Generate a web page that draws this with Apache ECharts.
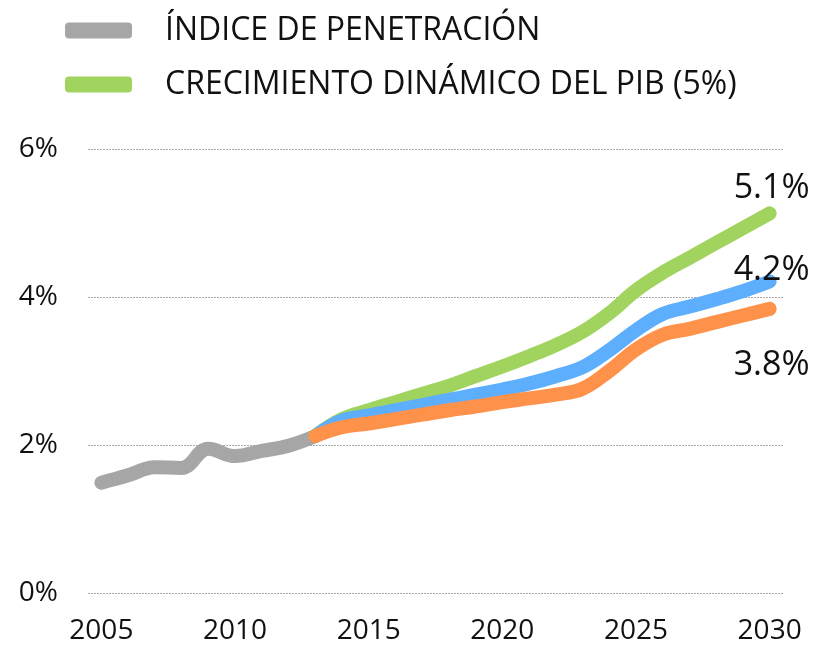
<!DOCTYPE html>
<html>
<head>
<meta charset="utf-8">
<script src="https://cdn.jsdelivr.net/npm/echarts@6/dist/echarts.min.js"></script>
<style>
  html, body { margin: 0; padding: 0; background: #fff; }
  #chart { width: 820px; height: 646px; }
</style>
</head>
<body>
<div id="chart"></div>
<script>
// años del eje x
const years = [];
for (let y = 2005; y <= 2030; y++) years.push(String(y));

// índice de penetración histórico (2005-2013)
const penetracion = [1.49, 1.59, 1.70, 1.69, 1.95, 1.85, 1.92, 1.99, 2.12];

// escenarios 2013-2030
const pibDinamico = [2.12, 2.35, 2.47, 2.58, 2.69, 2.80, 2.93, 3.06, 3.20, 3.35, 3.53, 3.78, 4.09, 4.33, 4.53, 4.73, 4.93, 5.13];
const escenarioAzul = [2.12, 2.33, 2.40, 2.47, 2.54, 2.61, 2.68, 2.75, 2.83, 2.93, 3.05, 3.28, 3.55, 3.77, 3.87, 3.97, 4.08, 4.21];
const escenarioNaranja = [2.12, 2.24, 2.29, 2.35, 2.41, 2.47, 2.52, 2.58, 2.63, 2.68, 2.76, 3.00, 3.29, 3.49, 3.57, 3.66, 3.75, 3.84];

const yTicks = [0, 2, 4, 6];

const FONT = 'Open Sans';

// rellenar con null para el eje de categorías
function pad(values, startYear) {
  let out = years.map(() => null);
  let offset = startYear - 2005;
  values.forEach((v, i) => { out[offset + i] = v; });
  return out;
}

// último punto con etiqueta
function withEndLabel(arr, offsetY) {
  let last = arr.length - 1;
  arr[last] = {
    value: arr[last],
    label: {
      show: true,
      position: 'inside',
      offset: [2, offsetY],
      formatter: p => p.value.toFixed(1) + '%',
      fontFamily: FONT,
      fontSize: 34,
      color: '#111'
    }
  };
  return arr;
}

function lineSeries(name, data, color, z) {
  return {
    name,
    type: 'line',
    data,
    smooth: 0.4,
    z,
    symbol: 'circle',
    symbolSize: 2,
    showSymbol: true,
    showAllSymbol: true,
    itemStyle: { color },
    lineStyle: { width: 14, color, cap: 'round', join: 'round' },
    label: { show: false },
    emphasis: { disabled: true },
    animation: false
  };
}

const chart = echarts.init(document.getElementById('chart'));

chart.setOption({
  backgroundColor: '#ffffff',
  animation: false,
  legend: {
    data: ['ÍNDICE DE PENETRACIÓN', 'CRECIMIENTO DINÁMICO DEL PIB (5%)'],
    orient: 'vertical',
    left: 65,
    top: 12,
    padding: 0,
    itemWidth: 67,
    itemHeight: 16,
    itemGap: 17,
    icon: 'roundRect',
    selectedMode: false,
    textStyle: {
      fontFamily: FONT,
      fontSize: 32,
      color: '#111',
      lineHeight: 37,
      padding: [0, 0, 0, 28]
    }
  },
  grid: { left: 88, right: 37, top: 149, bottom: 53 },
  xAxis: {
    type: 'category',
    data: years,
    boundaryGap: true,
    axisLine: { show: false },
    axisTick: { show: false },
    axisLabel: {
      interval: 4,
      margin: 24,
      fontFamily: FONT,
      fontSize: 28,
      color: '#111'
    }
  },
  yAxis: {
    type: 'value',
    min: yTicks[0],
    max: yTicks[yTicks.length - 1],
    interval: 2,
    axisLine: { show: false },
    axisTick: { show: false },
    axisLabel: {
      margin: 30,
      formatter: '{value}%',
      fontFamily: FONT,
      fontSize: 28,
      color: '#111'
    },
    splitLine: { lineStyle: { color: '#aaaaaa', type: [2, 1], width: 1 } }
  },
  series: [
    lineSeries('ÍNDICE DE PENETRACIÓN', pad(penetracion, 2005), '#a6a6a6', 2),
    lineSeries('CRECIMIENTO DINÁMICO DEL PIB (5%)', withEndLabel(pad(pibDinamico, 2013), -25), '#a0d45e', 3),
    lineSeries('ESCENARIO AZUL', withEndLabel(pad(escenarioAzul, 2013), -11), '#5eaefe', 4),
    lineSeries('ESCENARIO NARANJA', withEndLabel(pad(escenarioNaranja, 2013), 56), '#ff924a', 5)
  ]
});
</script>
</body>
</html>
